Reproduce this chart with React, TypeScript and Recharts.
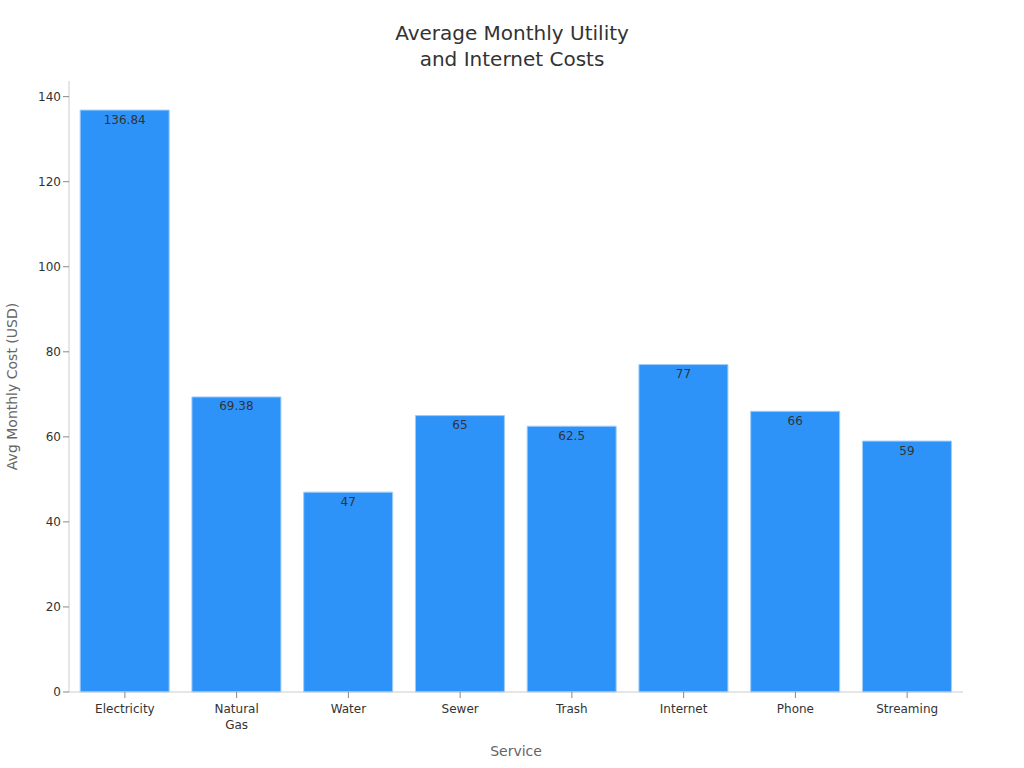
import React from 'react';
import { BarChart, Bar, XAxis, YAxis, LabelList, Label } from 'recharts';

const services = ['Electricity', 'Natural Gas', 'Water', 'Sewer', 'Trash', 'Internet', 'Phone', 'Streaming'];
const costs = [136.84, 69.38, 47, 65, 62.5, 77, 66, 59];
const yTicks = [0, 20, 40, 60, 80, 100, 120, 140];

const data = services.map((name, i) => ({ name, cost: costs[i] }));

const FONT = '"DejaVu Sans", sans-serif';

const ServiceTick = ({ x, y, payload }: any) => {
  const words = String(payload.value).split(' ');
  return (
    <g transform={`translate(${x},${y})`}>
      <text textAnchor="middle" fill="#333" fontSize={12} fontFamily={FONT}>
        {words.map((w, i) => (
          <tspan key={i} x={0} dy={i === 0 ? 13 : 16}>
            {w}
          </tspan>
        ))}
      </text>
    </g>
  );
};

export default function App() {
  return (
    <div style={{ position: 'absolute', left: 0, top: 0, width: 1024, height: 768, background: '#fff', fontFamily: FONT }}>
      <div
        style={{
          position: 'absolute',
          top: 20,
          left: 0,
          width: 1024,
          textAlign: 'center',
          fontSize: 20,
          lineHeight: '26px',
          color: '#333',
        }}
      >
        Average Monthly Utility
        <br />
        and Internet Costs
      </div>
      <BarChart
        width={1024}
        height={768}
        data={data}
        margin={{ top: 81, right: 61, bottom: 0, left: 1 }}
        barCategoryGap="10%"
      >
        <YAxis
          width={68}
          domain={[0, 143.68]}
          ticks={yTicks}
          tick={{ fill: '#333', fontSize: 12, fontFamily: FONT }}
          axisLine={{ stroke: '#ccc' }}
          tickLine={{ stroke: '#888' }}
        >
          <Label
            value="Avg Monthly Cost (USD)"
            angle={-90}
            position="insideLeft"
            offset={11}
            style={{ textAnchor: 'middle', fill: '#666', fontSize: 14, fontFamily: FONT }}
          />
        </YAxis>
        <XAxis
          dataKey="name"
          height={76}
          interval={0}
          tick={<ServiceTick />}
          axisLine={{ stroke: '#ccc' }}
          tickLine={{ stroke: '#888' }}
        >
          <Label
            value="Service"
            position="insideBottom"
            offset={12}
            style={{ fill: '#666', fontSize: 14, fontFamily: FONT }}
          />
        </XAxis>
        <Bar dataKey="cost" fill="#2e93f9" stroke="#9fcdf8" strokeWidth={1} isAnimationActive={false}>
          <LabelList
            dataKey="cost"
            position="insideTop"
            offset={5}
            style={{ fill: '#333', fontSize: 12, fontFamily: FONT }}
          />
        </Bar>
      </BarChart>
    </div>
  );
}
